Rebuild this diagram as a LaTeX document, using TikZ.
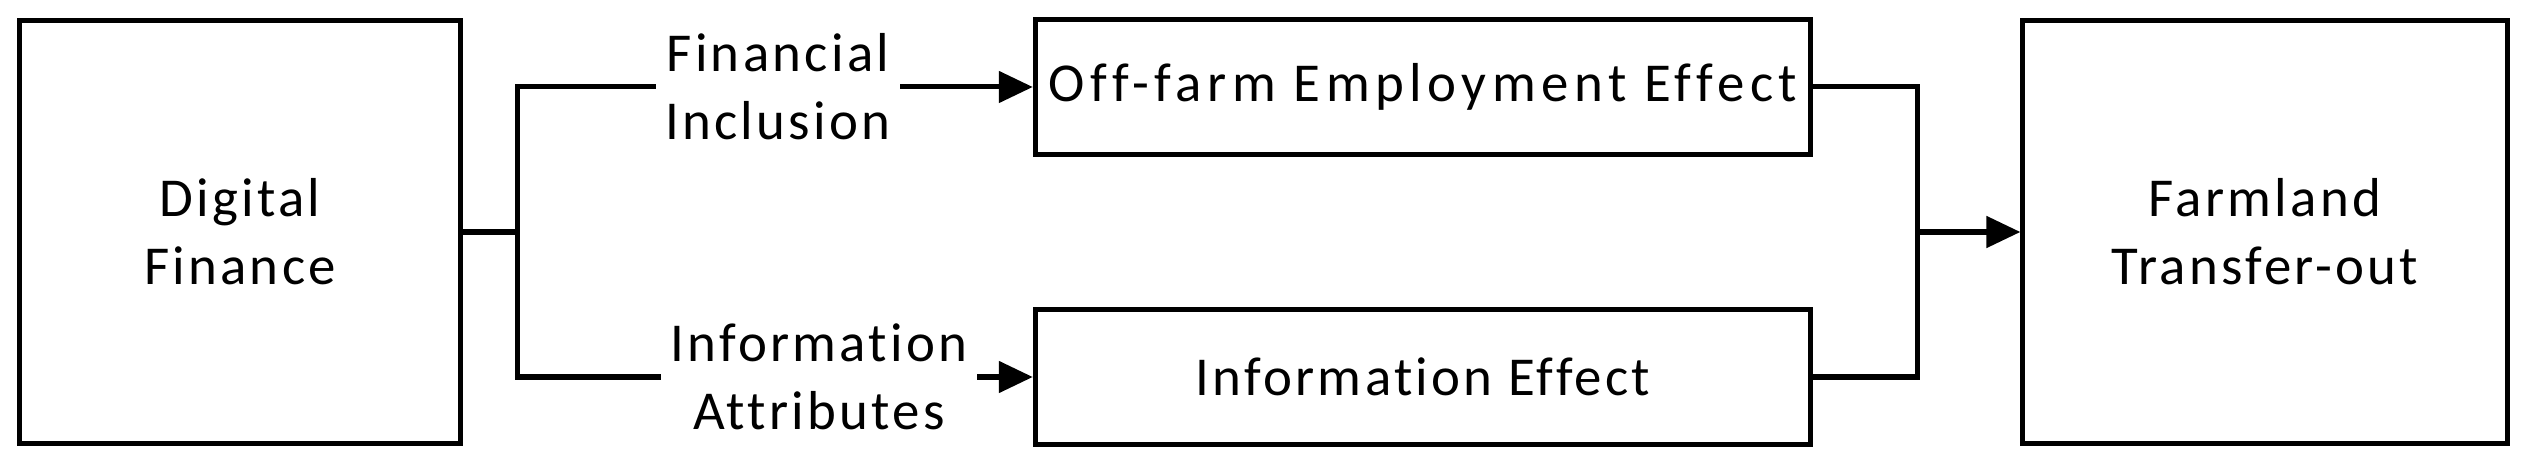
\documentclass[tikz,border=0pt]{standalone}
\usepackage{fontspec}
\setmainfont[Ligatures=NoCommon,LetterSpace=6]{Carlito}
\usetikzlibrary{arrows.meta}
\tikzset{every node/.style={font=\fontsize{15.6pt}{19.3pt}\selectfont, align=center}}

\begin{document}
\begin{tikzpicture}[x=0.01cm,y=-0.01cm,line width=0.05cm,
        box/.style={draw,inner sep=0pt,line width=0.05cm},
        lbl/.style={inner sep=0.07cm},
        arr/.style={-{Triangle[length=0.34cm,width=0.31cm]}}]
        \useasboundingbox (0,0) rectangle (2524,461);
        \node[box,minimum width=4.41cm,minimum height=4.23cm] (df) at (240,232) {Digital\\Finance};
        \node[box,minimum width=7.75cm,minimum height=1.34cm] (ofe) at (1423,87) {\addfontfeature{LetterSpace=10}Off-farm Employment Effect};
        \node[box,minimum width=7.75cm,minimum height=1.34cm] (ie) at (1423,377) {Information Effect};
        \node[box,minimum width=4.84cm,minimum height=4.23cm] (ft) at (2265,232) {Farmland\\Transfer-out};
        \node[lbl] (fi) at (778,87) {Financial\\Inclusion};
        \node[lbl] (ia) at (819,377) {Information\\Attributes};
        \coordinate (sp) at (517,232);
        \coordinate (jn) at (1917,232);
        % left branch
        \draw (df.east) -- (sp);
        \draw (fi.west) -| (sp) |- (ia.west);
        \draw[arr] (fi.east) -- (ofe.west);
        \draw[arr] (ia.east) -- (ie.west);
        % right join
        \draw (ofe.east) -| (jn) |- (ie.east);
        \draw[arr] (jn) -- (ft.west);
    \end{tikzpicture}
\end{document}
